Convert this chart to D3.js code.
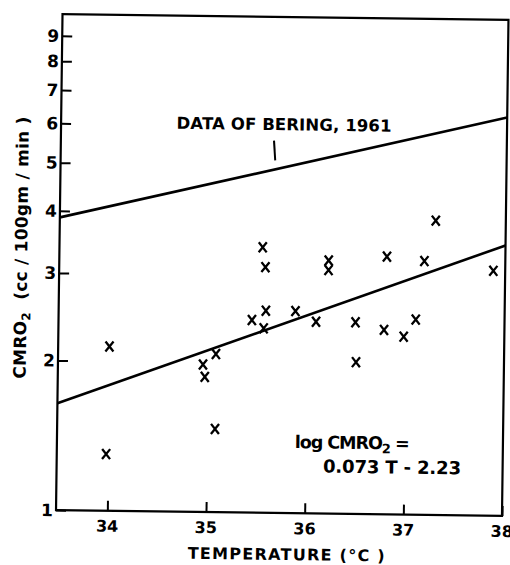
<!DOCTYPE html>
<html>
<head>
<meta charset="utf-8">
<script src="https://cdn.jsdelivr.net/npm/d3@7"></script>
<style>
html, body { margin: 0; padding: 0; background: #fff; }
svg { display: block; }
text { font-family: "DejaVu Sans", "Liberation Sans", sans-serif; fill: #000; }
</style>
</head>
<body>
<svg id="chart" width="510" height="565"></svg>
<script>
// ---- data ----
const temperatures = [34.0, 33.98, 35.54, 35.57, 35.58, 35.56, 35.44, 35.88, 36.09, 35.08, 34.95, 34.97,
                      35.08, 37.29, 36.21, 36.21, 36.80, 37.18, 37.88, 36.49, 36.78, 36.98, 37.10, 36.50];
const cmro2 = [2.14, 1.30, 3.42, 3.12, 2.55, 2.35, 2.44, 2.55, 2.43, 2.08, 1.98, 1.87,
               1.47, 3.91, 3.23, 3.09, 3.30, 3.24, 3.11, 2.43, 2.35, 2.28, 2.47, 2.02];
const beringT = [33.48, 38.0];
const beringV = [3.88, 6.33];
const fitT = [33.48, 38.0];
const fitV = [1.64, 3.50];
const xTicks = [34, 35, 36, 37, 38];
const yTicks = [1, 2, 3, 4, 5, 6, 7, 8, 9];
const xTitle = "TEMPERATURE (°C )";
const yTitleMain = "CMRO";
const yTitleRest = "  (cc / 100gm / min )";
const beringLabel = "DATA OF BERING, 1961";
const formulaLine1 = ["log CMRO", "2", " ="];
const formulaLine2 = "0.073 T - 2.23";

// ---- layout ----
const L = 59.25, R = 505.25, T = 17, B = 513;
const svg = d3.select("#chart");
const g = svg.append("g").attr("transform", "rotate(0.75, 282, 265)");

const x = d3.scaleLinear().domain([33.48, 38]).range([L, R]);
const y = d3.scaleLog().domain([1, 9.95]).range([B, T]);

// frame
g.append("rect").attr("x", L).attr("y", T).attr("width", R - L).attr("height", B - T)
  .attr("fill", "none").attr("stroke", "#000").attr("stroke-width", 2.2);

// y axis ticks (inward)
const yAxis = d3.axisRight(y).tickValues(yTicks).tickSize(10).tickFormat("");
const ya = g.append("g").attr("transform", `translate(${L},0)`).call(yAxis);
ya.select(".domain").remove();
ya.selectAll(".tick line").attr("stroke", "#000").attr("stroke-width", 2);
g.selectAll(".ylab").data(yTicks).enter().append("text")
  .attr("class", "ylab")
  .attr("x", L - 3).attr("y", d => y(d)).attr("dy", "0.36em")
  .attr("text-anchor", "end").attr("font-size", 17).attr("font-weight", "bold")
  .text(d => d);

// x axis ticks (inward)
const xAxis = d3.axisTop(x).tickValues(xTicks).tickSize(10).tickFormat("");
const xa = g.append("g").attr("transform", `translate(0,${B})`).call(xAxis);
xa.select(".domain").remove();
xa.selectAll(".tick line").attr("stroke", "#000").attr("stroke-width", 2);
g.selectAll(".xlab").data(xTicks).enter().append("text")
  .attr("class", "xlab")
  .attr("x", d => x(d)).attr("y", B + 21)
  .attr("text-anchor", "middle").attr("font-size", 16).attr("font-weight", "bold")
  .text(d => d);

// axis titles
g.append("text").attr("x", 290).attr("y", 560).attr("text-anchor", "middle")
  .attr("font-size", 16).attr("font-weight", "bold")
  .attr("textLength", 197).attr("lengthAdjust", "spacing")
  .text(xTitle);

const yt = g.append("text").attr("transform", "translate(27,251) rotate(-90)")
  .attr("text-anchor", "middle").attr("font-size", 17).attr("font-weight", "bold")
  .attr("textLength", 262).attr("lengthAdjust", "spacing")
  .style("white-space", "pre");
yt.append("tspan").text(yTitleMain);
yt.append("tspan").attr("dy", 4).attr("font-size", 12).text("2");
yt.append("tspan").attr("dy", -4).text(yTitleRest);

// lines
const line = d3.line().x(d => x(d[0])).y(d => y(d[1]));
g.append("path").datum(d3.zip(beringT, beringV)).attr("d", line)
  .attr("fill", "none").attr("stroke", "#000").attr("stroke-width", 2.6);
g.append("path").datum(d3.zip(fitT, fitV)).attr("d", line)
  .attr("fill", "none").attr("stroke", "#000").attr("stroke-width", 2.6);

// scatter X marks
const pts = d3.zip(temperatures, cmro2);
g.selectAll(".pt").data(pts).enter().append("path")
  .attr("class", "pt")
  .attr("transform", d => `translate(${x(d[0])},${y(d[1])})`)
  .attr("d", "M-4,-5L4,5M4,-5L-4,5")
  .attr("fill", "none").attr("stroke", "#000").attr("stroke-width", 2.3);

// Bering annotation
g.append("text").attr("x", x(34.65)).attr("y", y(5.89))
  .attr("font-size", 16.5).attr("font-weight", "bold")
  .attr("textLength", 215).attr("lengthAdjust", "spacing")
  .text(beringLabel);
g.append("line").attr("x1", x(35.64)).attr("x2", x(35.655))
  .attr("y1", y(5.61)).attr("y2", y(5.12))
  .attr("stroke", "#000").attr("stroke-width", 2);

// formula annotation
const f1 = g.append("text").attr("x", x(35.89)).attr("y", y(1.352))
  .attr("font-size", 17.5).attr("font-weight", "bold")
  .attr("textLength", 115).attr("lengthAdjust", "spacing");
f1.append("tspan").text(formulaLine1[0]);
f1.append("tspan").attr("dy", 4).attr("font-size", 13).text(formulaLine1[1]);
f1.append("tspan").attr("dy", -4).text(formulaLine1[2]);
g.append("text").attr("x", x(36.18)).attr("y", y(1.209))
  .attr("font-size", 18).attr("font-weight", "bold")
  .attr("textLength", 138).attr("lengthAdjust", "spacing")
  .text(formulaLine2);
</script>
</body>
</html>
